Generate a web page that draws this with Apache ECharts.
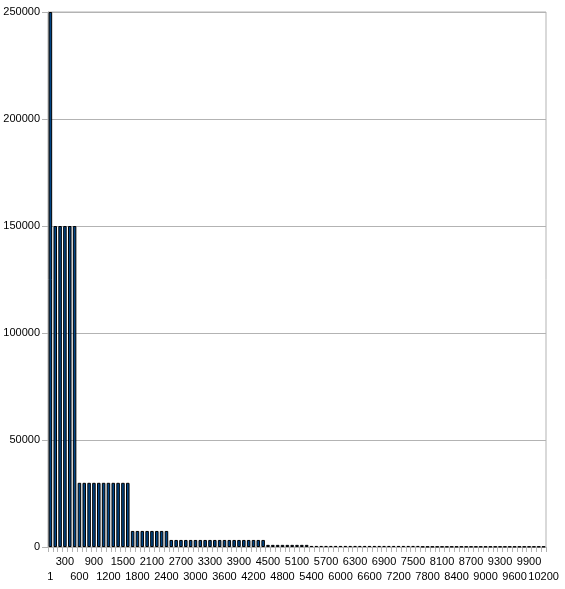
<!DOCTYPE html>
<html>
<head>
<meta charset="utf-8">
<script src="https://cdn.jsdelivr.net/npm/echarts@6/dist/echarts.min.js"></script>
<style>
html,body{margin:0;padding:0;background:#fff;}
#chart{width:565px;height:589px;}
</style>
</head>
<body>
<div id="chart"></div>
<script>
var categories = [
  '1','100','200','300','400','500','600','700','800','900',
  '1000','1100','1200','1300','1400','1500','1600','1700','1800','1900',
  '2000','2100','2200','2300','2400','2500','2600','2700','2800','2900',
  '3000','3100','3200','3300','3400','3500','3600','3700','3800','3900',
  '4000','4100','4200','4300','4400','4500','4600','4700','4800','4900',
  '5000','5100','5200','5300','5400','5500','5600','5700','5800','5900',
  '6000','6100','6200','6300','6400','6500','6600','6700','6800','6900',
  '7000','7100','7200','7300','7400','7500','7600','7700','7800','7900',
  '8000','8100','8200','8300','8400','8500','8600','8700','8800','8900',
  '9000','9100','9200','9300','9400','9500','9600','9700','9800','9900',
  '10000','10100','10200'
];
var values = [
  250000,
  150000,150000,150000,150000,150000,
  30000,30000,30000,30000,30000,30000,30000,30000,30000,30000,30000,
  7500,7500,7500,7500,7500,7500,7500,7500,
  3300,3300,3300,3300,3300,3300,3300,3300,3300,3300,
  3300,3300,3300,3300,3300,3300,3300,3300,3300,3300,
  1000,1000,1000,1000,1000,1000,1000,1000,1000,
  500,500,500,500,500,500,500,500,500,500,500,500,
  500,500,500,500,500,500,500,500,500,500,500,
  200,200,200,200,200,200,200,200,200,200,200,200,200,
  200,200,200,200,200,200,200,200,200,200,200,200,200
];
var yTicks = [0, 50000, 100000, 150000, 200000, 250000];

var labelFont = {fontFamily: 'Liberation Sans', fontSize: 11, color: '#000'};

var chart = echarts.init(document.getElementById('chart'), null, {renderer:'canvas'});
chart.setOption({
  animation: false,
  backgroundColor: '#ffffff',
  grid: {left: 48, right: 19, top: 12, bottom: 42, show: true, borderColor: '#b3b3b3', borderWidth: 1},
  xAxis: [{
    type: 'category',
    data: categories,
    position: 'bottom',
    axisLine: {show: true, lineStyle: {color: '#b3b3b3'}},
    axisTick: {show: true, interval: 0, length: 5, lineStyle: {color: '#b3b3b3'}},
    axisLabel: Object.assign({
      interval: function (index) { return index % 6 === 3; },
      margin: 9,
      hideOverlap: false
    }, labelFont),
    splitLine: {show: false}
  }, {
    type: 'category',
    data: categories,
    position: 'bottom',
    offset: 15,
    axisLine: {show: false},
    axisTick: {show: false},
    axisLabel: Object.assign({
      interval: function (index) { return index % 6 === 0; },
      margin: 9,
      showMaxLabel: true,
      hideOverlap: false
    }, labelFont),
    splitLine: {show: false}
  }],
  yAxis: {
    type: 'value',
    min: yTicks[0],
    max: yTicks[yTicks.length - 1],
    interval: 50000,
    axisLine: {show: true, lineStyle: {color: '#b3b3b3'}},
    axisTick: {show: true, length: 6, lineStyle: {color: '#b3b3b3'}},
    axisLabel: Object.assign({margin: 8, formatter: function (v) { return String(v); }}, labelFont),
    splitLine: {show: true, lineStyle: {color: '#b3b3b3'}}
  },
  series: [{
    type: 'bar',
    xAxisIndex: 0,
    data: values,
    barCategoryGap: '27%',
    itemStyle: {color: '#004586', borderColor: '#000000', borderWidth: 1}
  }]
});
</script>
</body>
</html>
